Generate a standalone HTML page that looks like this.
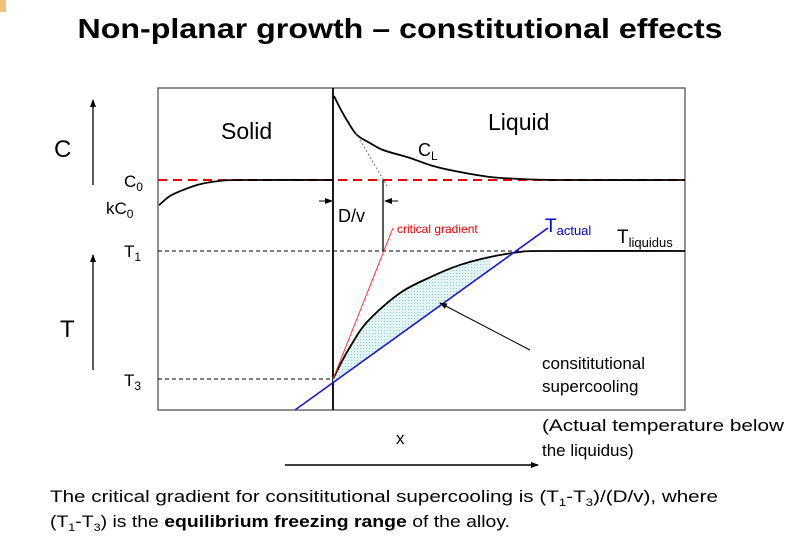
<!DOCTYPE html>
<html><head><meta charset="utf-8"><style>
html,body{margin:0;padding:0;background:#fff;}
svg{display:block;font-family:"Liberation Sans",Arial,sans-serif;}
</style></head><body>
<svg id="chart" width="800" height="546" viewBox="0 0 800 546" xmlns="http://www.w3.org/2000/svg">
<defs>
<pattern id="dots" width="3" height="3" patternUnits="userSpaceOnUse"><rect width="3" height="3" fill="#e2f4f4"/><rect width="1" height="1" fill="#9cc"/></pattern>
<marker id="ah" markerWidth="8" markerHeight="8" refX="7" refY="4" orient="auto" markerUnits="userSpaceOnUse"><path d="M0,1 L8,4 L0,7 Z" fill="#000"/></marker>
</defs>
<rect x="0" y="0" width="6" height="12" fill="#f3c27a"/>
<text x="400" y="38" text-anchor="middle" font-size="28" font-weight="bold" textLength="645" lengthAdjust="spacingAndGlyphs">Non-planar growth – constitutional effects</text>
<rect x="158" y="88" width="527" height="322" fill="none" stroke="#555" stroke-width="1.3"/>
<line x1="333" y1="88" x2="333" y2="410" stroke="#000" stroke-width="1.8"/>
<line x1="158" y1="251" x2="685" y2="251" stroke="#000" stroke-dasharray="4,3" stroke-width="1"/>
<line x1="158" y1="379" x2="333" y2="379" stroke="#000" stroke-dasharray="4,3" stroke-width="1"/>
<line x1="158" y1="180" x2="685" y2="180" stroke="#e00" stroke-dasharray="9,6" stroke-width="2"/>
<g id="marks"></g>
<line x1="356" y1="133" x2="387" y2="186" stroke="#777" stroke-dasharray="2,2" stroke-width="1"/>
<line x1="383" y1="180" x2="383" y2="251" stroke="#000" stroke-width="1.3"/>
<line x1="319" y1="201" x2="332" y2="201" stroke="#000" stroke-width="1" marker-end="url(#ah)"/>
<line x1="398" y1="201" x2="385" y2="201" stroke="#000" stroke-width="1" marker-end="url(#ah)"/>
<text x="338" y="222" font-size="18">D/v</text>
<text x="397" y="233" font-size="12" fill="#e00">critical gradient</text>
<text x="221" y="139" font-size="23">Solid</text>
<text x="488" y="130" font-size="23">Liquid</text>
<text x="418" y="156" font-size="18">C<tspan font-size="12" dy="4">L</tspan></text>
<text x="545" y="232" font-size="19" fill="#00c">T<tspan font-size="13" dy="3">actual</tspan></text>
<text x="617" y="243" font-size="19">T<tspan font-size="13" dy="4">liquidus</tspan></text>
<line x1="530" y1="350" x2="440" y2="303" stroke="#000" stroke-width="1" marker-end="url(#ah)"/>
<text x="542" y="369" font-size="17">consititutional</text>
<text x="542" y="392" font-size="17">supercooling</text>
<text x="542" y="431" font-size="17" textLength="242" lengthAdjust="spacingAndGlyphs">(Actual temperature below</text>
<text x="542" y="456" font-size="17">the liquidus)</text>
<text x="54" y="157" font-size="24">C</text>
<line x1="93" y1="185" x2="93" y2="100" stroke="#000" stroke-width="1.3" marker-end="url(#ah)"/>
<text x="60" y="337" font-size="24">T</text>
<line x1="93" y1="370" x2="93" y2="255" stroke="#000" stroke-width="1.3" marker-end="url(#ah)"/>
<text x="124" y="187" font-size="17">C<tspan font-size="12" dy="4">0</tspan></text>
<text x="106" y="214" font-size="17">kC<tspan font-size="12" dy="4">0</tspan></text>
<text x="124" y="257" font-size="17">T<tspan font-size="12" dy="4">1</tspan></text>
<text x="124" y="386" font-size="17">T<tspan font-size="12" dy="4">3</tspan></text>
<text x="396" y="444" font-size="17">x</text>
<line x1="285" y1="465" x2="538" y2="465" stroke="#000" stroke-width="1.5" marker-end="url(#ah)"/>
<text x="50" y="502" font-size="17" textLength="668" lengthAdjust="spacingAndGlyphs">The critical gradient for consititutional supercooling is (T<tspan font-size="11" dy="4">1</tspan><tspan dy="-4">-T</tspan><tspan font-size="11" dy="4">3</tspan><tspan dy="-4">)/(D/v), where</tspan></text>
<text x="50" y="527" font-size="17" textLength="460" lengthAdjust="spacingAndGlyphs">(T<tspan font-size="11" dy="4">1</tspan><tspan dy="-4">-T</tspan><tspan font-size="11" dy="4">3</tspan><tspan dy="-4">) is the </tspan><tspan font-weight="bold">equilibrium freezing range</tspan> of the alloy.</text>
</svg>
<script>
const clX = [0.1,0.7,1.5,2.4,3.7,5.0,7.7,10.0,12.7,15.7,18.7,22.7,35.2];
const clC = [2.0,1.857,1.690,1.536,1.440,1.357,1.262,1.167,1.095,1.036,1.012,1.0,1.0];
const solidX = [-17.4,-16.3,-14.8,-13.3,-11.3,-9.3,0];
const solidC = [0.70,0.81,0.89,0.95,0.99,1.0,1.0];
const liqX = [0,0.7,1.7,3.4,6.7,10.0,12.7,15.7,18.7,21.2,35.2];
const liqT = [0,0.109,0.25,0.445,0.672,0.805,0.891,0.953,0.992,1.0,1.0];
const actualX = [-3.8,21.5];
const actualT = [-0.242,1.18];
const critX = [0,6.0];
const critT = [0,1.18];
function sx(x){return 333+x*10;}
function cy(c){return 180-(c-1)*84;}
function ty(t){return 379-t*128;}
const g=document.getElementById('marks');
const NS='http://www.w3.org/2000/svg';
function path(xs,ys,fy){
  let d='';
  xs.forEach((x,i)=>{const px=sx(x),py=fy(ys[i]);
    d+=(i===0?'M':' L')+px+','+py;});
  return d;
}
function smooth(xs,ys,fy){
  const p=xs.map((x,i)=>[sx(x),fy(ys[i])]);
  let d='M'+p[0][0]+','+p[0][1];
  for(let i=0;i<p.length-1;i++){
    const p0=p[i-1]||p[i],p1=p[i],p2=p[i+1],p3=p[i+2]||p2;
    const c1=[p1[0]+(p2[0]-p0[0])/6,p1[1]+(p2[1]-p0[1])/6];
    const c2=[p2[0]-(p3[0]-p1[0])/6,p2[1]-(p3[1]-p1[1])/6];
    d+=' C'+c1+' '+c2+' '+p2;
  }
  return d;
}
const slope=(actualT[1]-actualT[0])/(actualX[1]-actualX[0]);
function actAt(x){return actualT[0]+slope*(x-actualX[0]);}
let fx=[],ft=[];
for(let i=0;i<liqX.length;i++){ if(liqT[i]>=actAt(liqX[i])){fx.push(liqX[i]);ft.push(liqT[i]);} else break; }
const lastX=fx[fx.length-1];
let fd=smooth(fx,ft,ty)+' L'+sx(lastX)+','+ty(actAt(lastX))+' L'+sx(0)+','+ty(actAt(0))+' Z';
const fill=document.createElementNS(NS,'path');
fill.setAttribute('d',fd);fill.setAttribute('fill','url(#dots)');


g.appendChild(fill);
function add(d,stroke,w,name){
  const e=document.createElementNS(NS,'path');
  e.setAttribute('d',d);e.setAttribute('fill','none');e.setAttribute('stroke',stroke);e.setAttribute('stroke-width',w);
  
  
  g.appendChild(e);
}
add(smooth(clX,clC,cy),'#000',1.8,'cl-curve');
add(smooth(solidX,solidC,cy),'#000',1.8,'solid-concentration-curve');
add(smooth(liqX,liqT,ty),'#000',1.8,'liquidus-curve');
add(path(actualX,actualT,ty),'#1a1ad8',1.6,'t-actual-line');
add(path(critX,critT,ty),'#f33',1,'critical-gradient-line');
</script>
</body></html>
